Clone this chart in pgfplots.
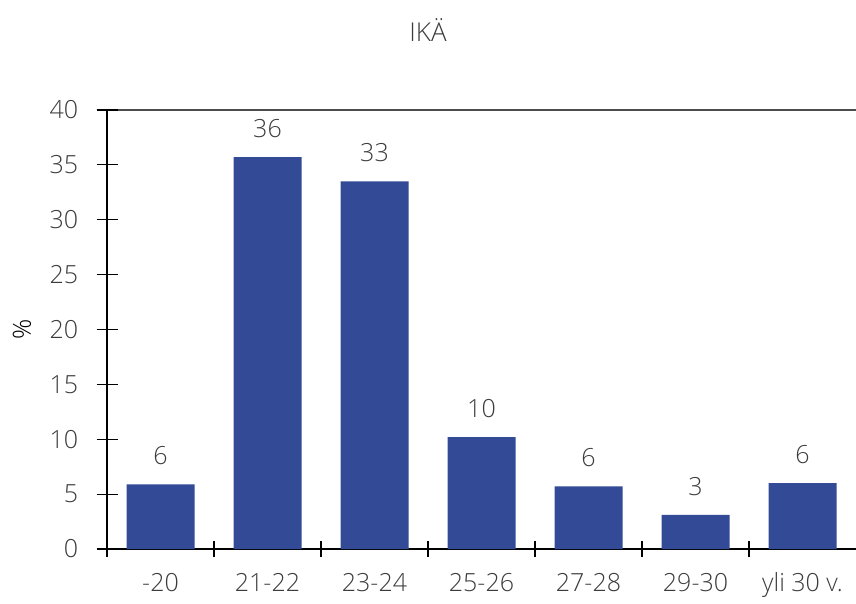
\documentclass[border=0pt]{standalone}
\usepackage{pgfplots}
\pgfplotsset{compat=1.18}
\usepackage{fontspec}
\IfFontExistsTF{Open Sans Light}{\setmainfont{Open Sans Light}}{\setmainfont{Open Sans}}
\definecolor{barblue}{RGB}{51,74,151}
\definecolor{txt}{RGB}{60,60,60}
\begin{document}
\begin{tikzpicture}
\begin{axis}[
    scale only axis,
    width=374.5pt, height=219.5pt,
    ybar, bar width=34pt,
    xmin=-0.5, xmax=6.5,
    ymin=0, ymax=40,
    ytick={0,5,...,40},
    xtick={0,...,6},
    xticklabels={-20, 21-22, 23-24, 25-26, 27-28, 29-30, yli 30 v.},
    minor xtick={-0.5,0.5,...,5.5},
    major x tick style={draw=none},
    tick align=center,
    major tick length=10.5pt,
    minor tick length=8pt,
    tick style={black, line width=0.6pt},
    axis lines*=left,
    axis line style={black, line width=0.6pt},
    extra y ticks={40},
    extra y tick labels={},
    extra y tick style={grid=major, major grid style={draw=black!70, line width=1pt}},
    font=\fontsize{12.5pt}{15pt}\selectfont,
    every tick label/.append style={text=txt},
    /pgf/number format/assume math mode=true,
    yticklabel style={inner sep=0pt, xshift=-9pt},
    xticklabel style={inner sep=0pt, anchor=north, yshift=-6.5pt},
    ylabel={\%},
    ylabel style={text=txt},
    every axis y label/.style={at={(axis description cs:0,0.5)}, anchor=center, xshift=-42.5pt, rotate=90},
    nodes near coords,
    point meta=explicit symbolic,
    every node near coord/.append style={text=txt, inner sep=0pt, anchor=south, yshift=9.5pt, font=\fontsize{12.5pt}{15pt}\selectfont},
]
\addplot[draw=none, fill=barblue] coordinates {
    (0,5.9) [6]
    (1,35.7) [36]
    (2,33.5) [33]
    (3,10.2) [10]
    (4,5.7) [6]
    (5,3.1) [3]
    (6,6.0) [6]
};
\end{axis}
\node[text=txt, font=\fontsize{13pt}{16pt}\selectfont, anchor=center] at ([shift={(160.5pt,40pt)}]current axis.north west) {IKÄ};
\pgfresetboundingbox
\path ([shift={(-53.5pt,-27pt)}]current axis.south west) rectangle ([shift={(0pt,55pt)}]current axis.north east);
\end{tikzpicture}
\end{document}
